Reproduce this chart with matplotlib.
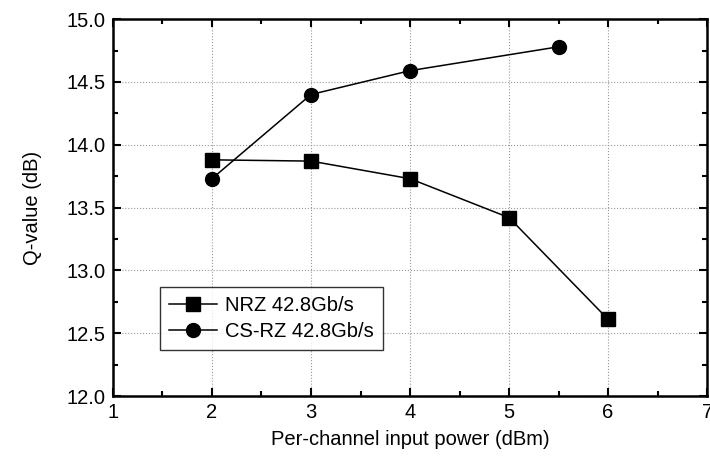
import matplotlib
matplotlib.use('Agg')
import matplotlib.pyplot as plt
from matplotlib.ticker import MultipleLocator

# data
nrz_power = [2, 3, 4, 5, 6]
nrz_q = [13.88, 13.87, 13.73, 13.42, 12.61]
csrz_power = [2, 3, 4, 5.5]
csrz_q = [13.73, 14.40, 14.59, 14.78]

x_ticks = [1, 2, 3, 4, 5, 6, 7]
y_ticks = [12.0, 12.5, 13.0, 13.5, 14.0, 14.5, 15.0]

plt.rcParams['font.family'] = ['Liberation Sans', 'DejaVu Sans']

fig = plt.figure(figsize=(7.1, 4.67), dpi=100)
ax = fig.add_axes([0.159, 0.152, 0.837, 0.807])

ax.plot(nrz_power, nrz_q, color='black', lw=1.1, marker='s', ms=9.5,
        label='NRZ 42.8Gb/s')
ax.plot(csrz_power, csrz_q, color='black', lw=1.1, marker='o', ms=10,
        label='CS-RZ 42.8Gb/s')

ax.set_xlim(1, 7)
ax.set_ylim(12.0, 15.0)
ax.set_xticks(x_ticks)
ax.set_yticks(y_ticks)
ax.set_xticklabels([str(v) for v in x_ticks])
ax.set_yticklabels(['%.1f' % v for v in y_ticks])
ax.xaxis.set_minor_locator(MultipleLocator(0.5))
ax.yaxis.set_minor_locator(MultipleLocator(0.25))
ax.tick_params(which='both', direction='in', top=True, right=True,
               labelsize=14.5, width=1.5)
ax.tick_params(which='major', length=6, pad=5)
ax.tick_params(which='minor', length=3.5)
for s in ax.spines.values():
    s.set_linewidth(1.8)

ax.grid(True, color='#999999', linestyle=':', linewidth=0.8)

ax.set_xlabel('Per-channel input power (dBm)', fontsize=14.5, labelpad=6)
ax.set_ylabel('Q-value (dB)', fontsize=14.5, labelpad=18)

leg = ax.legend(loc='lower left', bbox_to_anchor=(0.062, 0.095), fontsize=14.5,
                frameon=True, fancybox=False, edgecolor='black',
                handlelength=2.4, borderpad=0.45, labelspacing=0.35,
                handletextpad=0.4)
leg.get_frame().set_linewidth(1.0)

fig.savefig('out.png', dpi=100)
